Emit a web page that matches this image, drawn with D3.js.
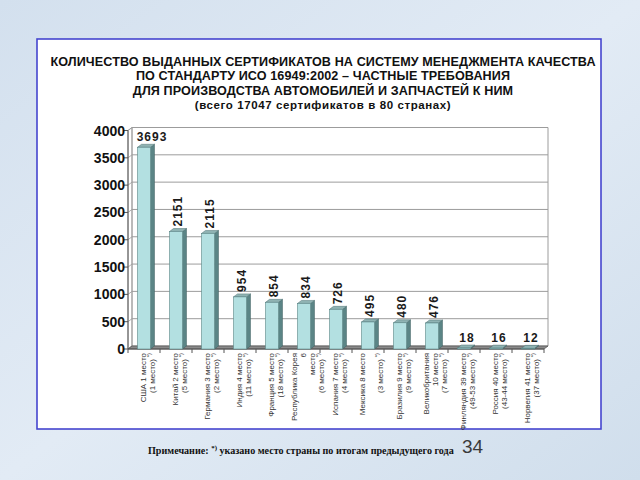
<!DOCTYPE html>
<html><head><meta charset="utf-8">
<script src="https://cdn.jsdelivr.net/npm/d3@7"></script>
<style>html,body{margin:0;padding:0;background:#d8e4f0}svg{display:block}</style>
</head><body>
<svg id="c" width="640" height="480"></svg>
<script>
// ---------- data ----------
const categories = ["США","Китай","Германия","Индия","Франция","Республика Корея","Испания","Мексика","Бразилия","Великобритания","Финляндия","Россия","Норвегия"];
const values = [3693,2151,2115,954,854,834,726,495,480,476,18,16,12];
const valueText = ["3693","2151","2115","954","854","834","726","495","480","476","18","16","12"];
const verticalLabel = [false,true,true,true,true,true,true,true,true,true,false,false,false];
const tickLines = [
  ["США 1 место","(1 место)"],
  ["Китай 2 место","(5 место)"],
  ["Германия 3 место","(2 место)"],
  ["Индия 4 место","(11 место)"],
  ["Франция 5 место","(18 место)"],
  ["Республика  Корея","6","место","(6 место)"],
  ["Испания 7 место","(4 место)"],
  ["Мексика 8 место","","(3 место)"],
  ["Бразилия 9 место","(9 место)"],
  ["Великобритания","10 место","(7 место)"],
  ["Финляндия  39  место","(49-53 место)"],
  ["Россия 40 место","(43-44 место)"],
  ["Норвегия  41 место","(37 место)"]
];
const yTicks = [0,500,1000,1500,2000,2500,3000,3500,4000];
const titleLines = [
  "КОЛИЧЕСТВО ВЫДАННЫХ СЕРТИФИКАТОВ НА СИСТЕМУ МЕНЕДЖМЕНТА КАЧЕСТВА",
  "ПО СТАНДАРТУ ИСО 16949:2002 – ЧАСТНЫЕ ТРЕБОВАНИЯ",
  "ДЛЯ ПРОИЗВОДСТВА АВТОМОБИЛЕЙ И ЗАПЧАСТЕЙ К НИМ",
  "(всего 17047 сертификатов в 80 странах)"
];
const noteBefore = "Примечание: ";
const noteSup = "*)";
const noteAfter = " указано место страны по итогам предыдущего года";
const pageNumber = "34";

// ---------- drawing ----------
const svg = d3.select("#c");
const defs = svg.append("defs");
const bg = defs.append("linearGradient").attr("id","bg").attr("x1",0).attr("y1",0).attr("x2",1).attr("y2",1);
bg.append("stop").attr("offset","0%").attr("stop-color","#d3e0ee");
bg.append("stop").attr("offset","50%").attr("stop-color","#e2ebf5");
bg.append("stop").attr("offset","100%").attr("stop-color","#d0deec");
svg.append("rect").attr("width",640).attr("height",480).attr("fill","url(#bg)");

// frame
svg.append("rect").attr("x",37).attr("y",39).attr("width",564).attr("height",390)
  .attr("fill","#fff").attr("stroke","#4545cf").attr("stroke-width",1.6);

// title
svg.append("g").selectAll("text").data(titleLines).join("text")
  .attr("x",323).attr("y",(d,i)=>66+i*14.3)
  .attr("text-anchor","middle")
  .attr("font-family","Liberation Sans, Arial, sans-serif")
  .attr("font-weight","bold")
  .attr("font-size",(d,i)=>i===3?11.5:12.6)
  .attr("letter-spacing",(d,i)=>i===3?0.6:0.1)
  .attr("fill","#111")
  .text(d=>d);

// geometry
const DX = 4, DY = -3;
const xFront0 = 128, xFront1 = 544;
const yB = d3.scaleLinear().domain([0,4000]).range([346,127.5]);
const yF = v => yB(v) - DY;
const x = d3.scaleBand().domain(categories).range([xFront0,xFront1]).paddingInner(0.594).paddingOuter(0.297);
const bw = x.bandwidth();
const step = x.step();

const plot = svg.append("g");
// left wall
plot.append("polygon")
  .attr("points",[[xFront0,yF(4000)],[xFront0+DX,yB(4000)],[xFront0+DX,yB(0)],[xFront0,yF(0)]].join(" "))
  .attr("fill","#fff").attr("stroke","#999").attr("stroke-width",0.8);
// back wall gridlines
plot.append("g").selectAll("line").data(yTicks).join("line")
  .attr("x1",xFront0+DX).attr("x2",xFront1+DX)
  .attr("y1",d=>yB(d)).attr("y2",d=>yB(d))
  .attr("stroke","#9c9c9c").attr("stroke-width",1);
plot.append("g").selectAll("line").data(yTicks).join("line")
  .attr("x1",xFront0).attr("x2",xFront0+DX)
  .attr("y1",d=>yF(d)).attr("y2",d=>yB(d))
  .attr("stroke","#9c9c9c").attr("stroke-width",0.8);
plot.append("line").attr("x1",xFront1+DX).attr("x2",xFront1+DX)
  .attr("y1",yB(4000)).attr("y2",yB(0)).attr("stroke","#9c9c9c");
plot.append("line").attr("x1",xFront0+DX).attr("x2",xFront0+DX)
  .attr("y1",yB(4000)).attr("y2",yB(0)).attr("stroke","#9c9c9c");
// floor
plot.append("polygon")
  .attr("points",[[xFront0,yF(0)],[xFront0+DX,yB(0)],[xFront1+DX,yB(0)],[xFront1,yF(0)]].join(" "))
  .attr("fill","#8a8a8a").attr("stroke","#555").attr("stroke-width",0.8);

// y axis (front)
plot.append("line").attr("x1",xFront0).attr("x2",xFront0)
  .attr("y1",yF(4000)).attr("y2",yF(0)).attr("stroke","#555").attr("stroke-width",1);
plot.append("g").selectAll("line").data(yTicks).join("line")
  .attr("x1",xFront0-4).attr("x2",xFront0)
  .attr("y1",d=>yF(d)).attr("y2",d=>yF(d)).attr("stroke","#555");
plot.append("g").selectAll("text").data(yTicks).join("text")
  .attr("x",xFront0-3).attr("y",d=>yF(d)+5)
  .attr("text-anchor","end")
  .attr("font-family","Liberation Sans, Arial, sans-serif")
  .attr("font-weight","bold").attr("font-size",14).attr("fill","#111")
  .text(d=>d);

// x axis
plot.append("line").attr("x1",xFront0).attr("x2",xFront1).attr("y1",yF(0)).attr("y2",yF(0)).attr("stroke","#555");
plot.append("g").selectAll("line").data(d3.range(categories.length+1)).join("line")
  .attr("x1",k=>xFront0+k*step).attr("x2",k=>xFront0+k*step)
  .attr("y1",yF(0)).attr("y2",yF(0)+4).attr("stroke","#555");

// bars
const bars = plot.append("g").selectAll("g").data(categories).join("g");
bars.append("polygon") // side
  .attr("points",(c,i)=>{const x0=x(c)+bw, t=yF(values[i]);
    return [[x0,t],[x0+DX,t+DY],[x0+DX,yB(0)],[x0,yF(0)]].join(" ");})
  .attr("fill","#5b8586").attr("stroke","#3f5f60").attr("stroke-width",0.5);
bars.append("polygon") // top
  .attr("points",(c,i)=>{const x0=x(c), t=yF(values[i]);
    return [[x0,t],[x0+DX,t+DY],[x0+bw+DX,t+DY],[x0+bw,t]].join(" ");})
  .attr("fill","#8fb3b3").attr("stroke","#4d7172").attr("stroke-width",0.5);
bars.append("rect") // front
  .attr("x",c=>x(c)).attr("width",bw)
  .attr("y",(c,i)=>yF(values[i])).attr("height",(c,i)=>yF(0)-yF(values[i]))
  .attr("fill","#b3e0e1").attr("stroke","#5b8586").attr("stroke-width",0.6);

// value labels
const vl = plot.append("g")
  .attr("font-family","Liberation Sans, Arial, sans-serif")
  .attr("font-weight","bold").attr("font-size",12).attr("fill","#1a1a1a")
  .attr("letter-spacing",1);
categories.forEach((c,i)=>{
  const cx = x(c)+bw/2+2;
  if (verticalLabel[i]) {
    const y0 = yF(values[i])-5;
    vl.append("text").attr("transform",`translate(${cx},${y0}) rotate(-90)`)
      .attr("dominant-baseline","central").attr("text-anchor","start").text(valueText[i]);
  } else {
    vl.append("text").attr("x",cx+(i===0?6:1)).attr("y",yF(values[i])-6)
      .attr("text-anchor","middle").text(valueText[i]);
  }
});

// category labels (rotated)
const tl = plot.append("g")
  .attr("font-family","Liberation Sans, Arial, sans-serif")
  .attr("font-size",8).attr("fill","#333");
categories.forEach((c,i)=>{
  const lines = tickLines[i];
  const n = lines.length;
  const center = x(c)+bw/2-2;
  lines.forEach((ln,j)=>{
    if (!ln) return;
    const lx = center + 5 + (j-(n-1)/2)*9;
    const t = tl.append("text").attr("transform",`translate(${lx},353) rotate(-90)`)
      .attr("text-anchor","end").attr("dominant-baseline","central");
    t.append("tspan").text(ln);
    if (j===n-1) t.append("tspan").attr("font-size",6).attr("dy",-3).text(" *)");
  });
});

// note
const note = svg.append("text").attr("x",148).attr("y",454)
  .attr("font-family","Liberation Serif, Times New Roman, serif")
  .attr("font-weight","bold").attr("font-size",10.1).attr("fill","#111");
note.append("tspan").text(noteBefore);
note.append("tspan").attr("font-size",7).attr("dy",-4).text(noteSup);
note.append("tspan").attr("dy",4).text(noteAfter);
svg.append("text").attr("x",462).attr("y",453)
  .attr("font-family","Liberation Sans, Arial, sans-serif").attr("font-size",19)
  .attr("fill","#3a3a3a").text(pageNumber);
</script>
</body></html>
